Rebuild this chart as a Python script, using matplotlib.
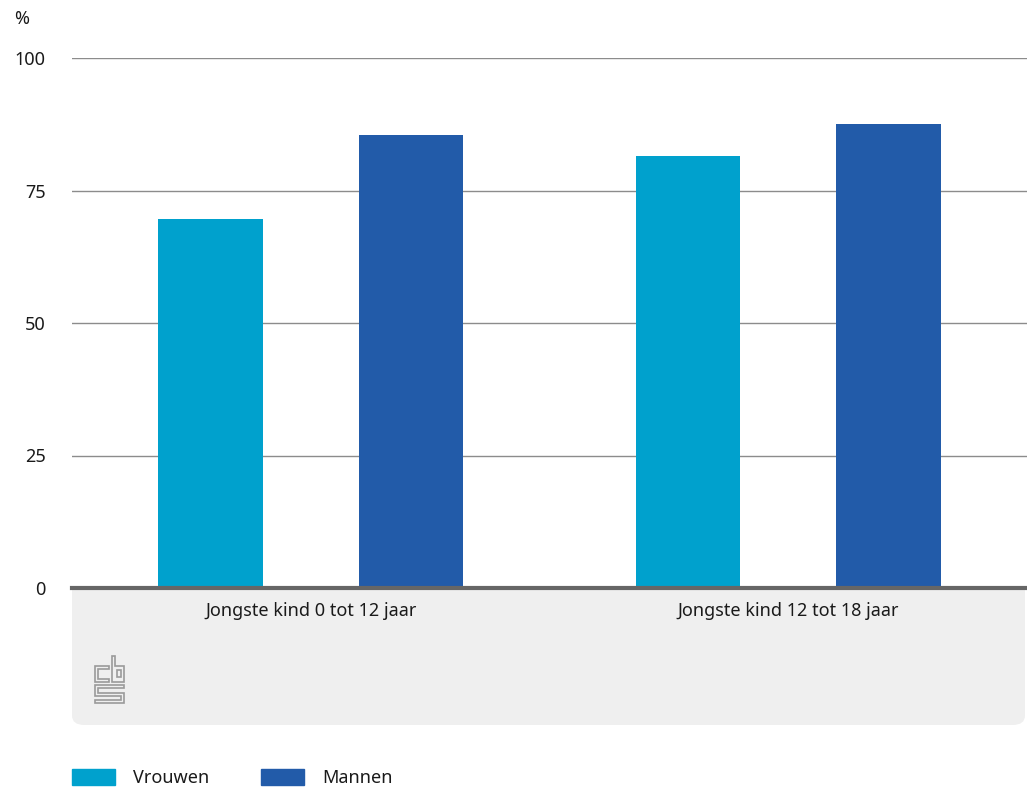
import matplotlib
matplotlib.use('Agg')

import matplotlib.pyplot as plt
import matplotlib.patches as mpatches
import numpy as np

plt.rcParams['font.family'] = ['Noto Sans', 'DejaVu Sans']

# ---- data
categories = ['Jongste kind 0 tot 12 jaar', 'Jongste kind 12 tot 18 jaar']
series_names = ['Vrouwen', 'Mannen']
vrouwen = [69.7, 81.5]
mannen = [85.5, 87.5]
y_ticks = [0, 25, 50, 75, 100]

COLORS = ['#00a1cd', '#225ba9']
TEXT = '#1a1a1a'
FS = 13

W, H = 1027, 789
fig = plt.figure(figsize=(W / 100, H / 100), dpi=100)

# ---- grey footer box behind the category labels (figure pixels -> fraction)
# rounded at the bottom, square at the top
box = mpatches.FancyBboxPatch(
    (72 / W, 1 - 725 / H), (1025 - 72) / W, (725 - 589) / H,
    boxstyle='round,pad=0,rounding_size=0.012',
    transform=fig.transFigure, facecolor='#efefef', edgecolor='none',
    zorder=-1)
box_top = mpatches.Rectangle(
    (72 / W, 1 - 640 / H), (1025 - 72) / W, (640 - 589) / H,
    transform=fig.transFigure, facecolor='#efefef', edgecolor='none',
    zorder=-1)
fig.patches.extend([box, box_top])

ax = fig.add_axes([72 / W, 1 - 588 / H, 1 - 72 / W, (588 - 58) / H])
ax.set_facecolor('none')

x = np.arange(len(categories))
offset, width = 0.21, 0.218
ax.bar(x - offset, vrouwen, width, color=COLORS[0], label=series_names[0], zorder=2)
ax.bar(x + offset, mannen, width, color=COLORS[1], label=series_names[1], zorder=2)

ax.set_xlim(-0.5, len(categories) - 0.5)
ax.set_ylim(0, 100)
ax.set_yticks(y_ticks)
ax.set_yticklabels([str(t) for t in y_ticks], fontsize=FS, color=TEXT)
ax.tick_params(axis='y', length=0, pad=19)
ax.set_xticks(x)
ax.set_xticklabels(categories, fontsize=FS, color=TEXT)
ax.tick_params(axis='x', length=0, pad=10)

for t in y_ticks[1:]:
    ax.axhline(t, color='#8c8c8c', lw=1.0, zorder=1)
ax.axhline(0, color='#666666', lw=3, zorder=3, clip_on=False)

for s in ax.spines.values():
    s.set_visible(False)

fig.text(14 / W, 1 - 19 / H, '%', fontsize=FS, color=TEXT, va='center')

# ---- cbs logo (outlined maze letters), coordinates in logo pixels
lax = fig.add_axes([93 / W, 1 - 705 / H, 33 / W, 50 / H])
lax.set_xlim(0, 33)
lax.set_ylim(50, 0)
lax.axis('off')
logo = dict(fill=False, edgecolor='#9a9a9a', lw=1.2, joinstyle='miter')
c_shape = [(16, 11), (2, 11), (2, 27), (16, 27), (16, 24), (5, 24), (5, 14), (16, 14)]
b_shape = [(19, 1), (22, 1), (22, 11), (31, 11), (31, 27), (19, 27)]
b_hole = [(24, 15), (28, 15), (28, 22), (24, 22)]
s_shape = [(31, 30), (2, 30), (2, 41), (28, 41), (28, 45), (2, 45), (2, 48),
           (31, 48), (31, 38), (5, 38), (5, 33), (31, 33)]
for pts in (c_shape, b_shape, b_hole, s_shape):
    lax.add_patch(mpatches.Polygon(pts, closed=True, **logo))

# ---- legend
handles = [mpatches.Patch(color=c, label=n) for c, n in zip(COLORS, series_names)]
fig.legend(handles=handles, loc='center left',
           bbox_to_anchor=(72 / W, 1 - 778 / H), ncol=2, frameon=False,
           fontsize=FS, handlelength=2.4, handleheight=0.95,
           handletextpad=1.0, columnspacing=2.85, labelcolor=TEXT,
           borderpad=0, borderaxespad=0)

fig.savefig('out.png', dpi=100)
